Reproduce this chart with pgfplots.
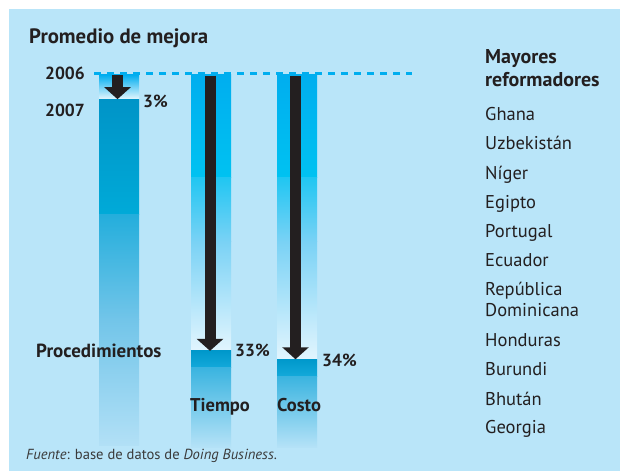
\documentclass[border=0pt]{standalone}
\usepackage{pgfplots}
\pgfplotsset{compat=1.18}
\usepackage{fontspec}
\setmainfont{PT Sans}
\usetikzlibrary{arrows.meta}
\definecolor{bg}{HTML}{B9E5F9}
\definecolor{cy}{HTML}{00AEEF}
\definecolor{ink}{HTML}{231F20}
\definecolor{src}{HTML}{3A3A3A}
\newcommand{\fs}[1]{\fontsize{#1}{#1}\selectfont}
\begin{document}
\begin{tikzpicture}
\fill[white] (0,0) rectangle (620pt,471pt);
\fill[bg] (9pt,0) rectangle (620pt,462pt);
\begin{axis}[at={(0,0)}, anchor=south west, scale only axis,
  width=620pt, height=471pt, xmin=0, xmax=620, ymin=-8.82, ymax=47.32,
  y dir=reverse, hide axis, clip=false]
% ---- Procedimientos (3%)
\addplot[draw=none, top color=cy, bottom color=cy!10!white] coordinates {(99,0.1) (139,0.1) (139,3) (99,3)} -- cycle;
\addplot[draw=none, top color={rgb,255:red,0;green,148;blue,199}, bottom color={rgb,255:red,0;green,170;blue,216}] coordinates {(99,3) (139,3) (139,16.8) (99,16.8)} -- cycle;
\addplot[draw=none, top color={rgb,255:red,36;green,174;blue,220}, bottom color={rgb,255:red,114;green,197;blue,233}] coordinates {(99,16.8) (139,16.8) (139,29.3) (99,29.3)} -- cycle;
\addplot[draw=none, top color={rgb,255:red,114;green,197;blue,233}, bottom color={rgb,255:red,178;green,224;blue,246}] coordinates {(99,29.3) (139,29.3) (139,44.3) (99,44.3)} -- cycle;
% ---- Tiempo (33%)
\addplot[draw=none, top color=cy, bottom color={rgb,255:red,0;green,194;blue,241}] coordinates {(191,0.1) (231,0.1) (231,12.3) (191,12.3)} -- cycle;
\addplot[draw=none, top color={rgb,255:red,32;green,198;blue,242}, bottom color={rgb,255:red,122;green,210;blue,245}] coordinates {(191,12.3) (231,12.3) (231,20) (191,20)} -- cycle;
\addplot[draw=none, top color={rgb,255:red,122;green,210;blue,245}, bottom color={rgb,255:red,226;green,245;blue,254}] coordinates {(191,20) (231,20) (231,33) (191,33)} -- cycle;
\addplot[draw=none, top color={rgb,255:red,0;green,152;blue,203}, bottom color={rgb,255:red,19;green,169;blue,218}] coordinates {(191,33) (231,33) (231,35) (191,35)} -- cycle;
\addplot[draw=none, top color={rgb,255:red,58;green,180;blue,224}, bottom color={rgb,255:red,181;green,226;blue,247}] coordinates {(191,35) (231,35) (231,44.5) (191,44.5)} -- cycle;
% ---- Costo (34%)
\addplot[draw=none, top color=cy, bottom color={rgb,255:red,0;green,194;blue,241}] coordinates {(277,0.1) (317,0.1) (317,12.3) (277,12.3)} -- cycle;
\addplot[draw=none, top color={rgb,255:red,32;green,198;blue,242}, bottom color={rgb,255:red,122;green,210;blue,245}] coordinates {(277,12.3) (317,12.3) (317,20) (277,20)} -- cycle;
\addplot[draw=none, top color={rgb,255:red,122;green,210;blue,245}, bottom color={rgb,255:red,226;green,245;blue,254}] coordinates {(277,20) (317,20) (317,34) (277,34)} -- cycle;
\addplot[draw=none, top color={rgb,255:red,0;green,152;blue,203}, bottom color={rgb,255:red,19;green,169;blue,218}] coordinates {(277,34) (317,34) (317,36) (277,36)} -- cycle;
\addplot[draw=none, top color={rgb,255:red,58;green,180;blue,224}, bottom color={rgb,255:red,181;green,226;blue,247}] coordinates {(277,36) (317,36) (317,44.5) (277,44.5)} -- cycle;
% ---- arrows
\addplot[ink, line width=10.5pt, -{Triangle[width=26pt,length=12pt]}] coordinates {(117.5,0.15) (117.5,3)};
\addplot[ink, line width=11pt, -{Triangle[width=26pt,length=12pt]}] coordinates {(210,0.2) (210,33)};
\addplot[ink, line width=11pt, -{Triangle[width=26pt,length=12pt]}] coordinates {(295.5,0.2) (295.5,34)};
% ---- 2006 baseline
\addplot[cy, line width=3pt, dash pattern=on 7pt off 6pt] coordinates {(94,0) (412,0)};
\end{axis}
\begin{scope}[x=1pt, y=-1pt, shift={(0,471pt)}, every node/.style={inner sep=0pt, text=ink}]
\node[anchor=base west, font=\bfseries\fs{20.8}] at (29,43.5) {Promedio de mejora};
\node[anchor=base east, font=\bfseries\fs{17.5}] at (85,80) {2006};
\node[anchor=base east, font=\bfseries\fs{17.5}] at (85,116.5) {2007};
\node[anchor=base west, font=\bfseries\fs{17.5}] at (143,108) {3\%};
\node[anchor=base west, font=\bfseries\fs{17.5}] at (235,357) {33\%};
\node[anchor=base west, font=\bfseries\fs{17.5}] at (322,366) {34\%};
\node[anchor=base west, font=\bfseries\fs{19}] at (36,357.5) {Procedimientos};
\node[anchor=base west, font=\bfseries\fs{18.5}] at (190,411) {Tiempo};
\node[anchor=base west, font=\bfseries\fs{18.5}] at (277,411) {Costo};
\node[anchor=base west, font=\fs{14.6}, text=src] at (26,459) {\textit{Fuente}: base de datos de \textit{Doing Business}.};
\node[anchor=base west, font=\bfseries\fs{20}] at (485,63.5) {Mayores};
\node[anchor=base west, font=\bfseries\fs{20}] at (485,87) {reformadores};
\foreach \n/\y in {Ghana/120.7, Uzbekistán/150, Níger/179.2, Egipto/208.4, Portugal/237.6, Ecuador/266.7, República/295.5, Dominicana/316.5, Honduras/346.7, Burundi/375.8, Bhután/405, Georgia/433.5}
  \node[anchor=base west, font=\fs{18.5}] at (485,\y) {\n};
\end{scope}
\end{tikzpicture}
\end{document}
